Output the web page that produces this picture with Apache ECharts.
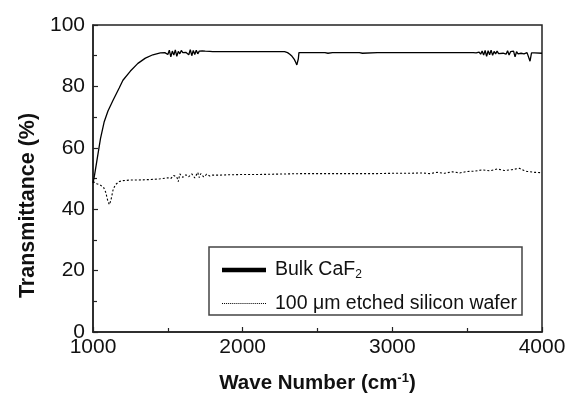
<!DOCTYPE html>
<html>
<head>
<meta charset="utf-8">
<script src="https://cdn.jsdelivr.net/npm/echarts@6/dist/echarts.min.js"></script>
<style>html,body{margin:0;padding:0;background:#fff}#c{width:568px;height:394px}</style>
</head>
<body>
<div id="c"></div>
<script>
var xTicks = [1000, 2000, 3000, 4000];
var yTicks = [0, 20, 40, 60, 80, 100];
var seriesNames = ['Bulk CaF2', '100 μm etched silicon wafer'];

var caf2X = [1000,1010,1025,1050,1075,1100,1134,1175,1200,1250,1300,1350,1400,1450,
  1480,1490,1500,1510,1520,1530,1540,1550,1560,1570,1580,1590,1600,1610,1620,1630,1640,1650,1660,1670,1680,1690,1700,1710,1720,1730,1740,1750,1760,1780,1800,
  1900,2000,2100,2200,2280,2290,2300,2315,2330,2345,2355,2362,2368,2372,2376,2390,
  2500,2550,2560,2570,2600,2700,2780,2790,2800,2900,3000,3200,3400,3540,
  3560,3580,3590,3600,3610,3620,3630,3640,3650,3660,3670,3680,3690,3700,3710,3720,3740,3750,3760,3770,3780,3790,3800,3810,3820,3830,3840,3850,3860,3870,3880,3900,3910,3920,3930,3950,4000];
var caf2Y = [48.5,51,55.5,63,68.5,72,75.5,79.5,82,85,87.5,89.2,90.3,90.9,
  91.0,91.6,90.4,91.8,89.6,91.5,90.2,91.9,89.8,91.4,90.6,91.7,91.0,91.4,91.1,91.6,90.3,92.0,90.0,91.7,90.4,91.8,90.6,91.5,90.9,91.6,91.1,91.5,91.2,91.4,91.3,
  91.3,91.3,91.3,91.3,91.3,91.2,91.0,90.5,89.8,88.8,87.8,87.0,87.4,89.0,91.0,91.0,
  91.0,91.0,91.3,90.8,91.0,91.0,91.0,91.3,90.8,91.0,91.0,91.0,91.0,91.0,
  90.9,91.2,90.5,91.5,90.2,91.7,89.8,91.6,90.3,91.8,90.1,91.4,90.6,91.5,90.7,91.3,90.8,91.4,90.5,91.6,90.2,91.3,90.7,91.5,89.6,91.3,90.6,91.2,90.8,91.1,90.6,91.0,91.3,88.2,90.9,90.9,90.8];

var siX = [1000,1010,1025,1050,1070,1085,1100,1110,1120,1135,1150,1175,1200,1250,1300,1350,1400,1450,1500,
  1520,1540,1560,1570,1580,1600,1620,1640,1660,1680,1700,1710,1720,1740,1760,1780,1800,1850,1900,2000,2100,2200,2300,2400,2500,2600,2700,2800,2900,3000,3100,3200,
  3250,3300,3350,3400,3450,3500,3550,3600,3650,3700,3750,3800,3850,3880,3900,3950,4000];
var siY = [49.0,48.8,48.3,47.8,47.2,45.5,42.5,41.5,43.0,46.5,48.0,49.0,49.3,49.5,49.5,49.6,49.7,49.9,50.2,
  50.0,51.0,50.5,49.0,51.5,50.4,51.2,50.6,51.5,50.2,52.0,50.3,51.6,50.5,51.4,50.8,51.1,51.1,51.2,51.3,51.3,51.4,51.5,51.6,51.6,51.6,51.6,51.6,51.6,51.7,51.7,51.8,
  51.6,52.0,51.7,52.2,51.8,52.3,52.4,52.8,52.5,53.1,52.6,52.9,53.3,52.6,52.3,52.0,51.9];

function pairs(xs, ys){ return xs.map(function(x,i){return [x, ys[i]];}); }

var chart = echarts.init(document.getElementById('c'), null, {renderer:'canvas'});
var font = 'Liberation Sans, Arial, sans-serif';
var dots = '';
for (var k = 0; k < 22; k++) { dots += 'M' + (2*k) + ',0L' + (2*k+1) + ',0L' + (2*k+1) + ',1L' + (2*k) + ',1Z'; }
chart.setOption({
  animation: false,
  backgroundColor: '#fff',
  grid: {left: 93, right: 26, top: 25, bottom: 62, show: true, borderColor: '#222', borderWidth: 1.5, backgroundColor: 'transparent', containLabel: false, outerBoundsMode: 'none'},
  xAxis: {
    type: 'value', min: xTicks[0], max: xTicks[xTicks.length-1], interval: 1000,
    axisLine: {show: true, onZero: false, lineStyle: {color: '#222', width: 1.5}},
    axisTick: {inside: true, length: 5, lineStyle: {color: '#222', width: 1.2}},
    minorTick: {show: true, splitNumber: 2, length: 4, lineStyle: {color: '#222', width: 1.2}},
    splitLine: {show: false},
    axisLabel: {color: '#111', fontSize: 21, fontFamily: font, margin: 5, formatter: function(v){ return String(v); }},
    name: 'Wave Number (cm{sup|-1})', nameLocation: 'middle', nameGap: 40,
    nameTextStyle: {color: '#111', fontSize: 20.5, fontWeight: 'bold', fontFamily: font,
      rich: {sup: {fontSize: 13, fontWeight: 'bold', fontFamily: font, verticalAlign: 'top', padding: [0,0,9,0], color:'#111'}}}
  },
  yAxis: {
    type: 'value', min: yTicks[0], max: yTicks[yTicks.length-1], interval: 20,
    axisLine: {show: true, onZero: false, lineStyle: {color: '#222', width: 1.5}},
    axisTick: {inside: true, length: 5, lineStyle: {color: '#222', width: 1.2}},
    minorTick: {show: true, splitNumber: 2, length: 4, lineStyle: {color: '#222', width: 1.2}},
    splitLine: {show: false},
    axisLabel: {color: '#111', fontSize: 21, fontFamily: font, margin: 8},
    name: 'Transmittance (%)', nameLocation: 'middle', nameGap: 54,
    nameTextStyle: {color: '#111', fontSize: 21.5, fontWeight: 'bold', fontFamily: font, padding: [0, 54, 0, 0]}
  },
  legend: {
    left: 209, top: 255, orient: 'vertical', padding: [5, 0, 0, 13],
    itemWidth: 44, itemHeight: 14, itemGap: 13,
    formatter: function(n){ return n === seriesNames[0] ? 'Bulk CaF{sub|2}' : n; },
    textStyle: {color: '#111', fontSize: 19.5, fontFamily: font, padding: [0,0,0,4],
      rich: {sub: {fontSize: 12, fontFamily: font, padding: [9,0,0,0], color:'#111'}}},
    data: [
      {name: seriesNames[0], icon: 'path://M0,0L10,0L10,1L0,1Z', itemStyle: {color: '#000'}},
      {name: seriesNames[1], icon: 'path://' + dots, itemStyle: {color: '#000'}}
    ]
  },
  graphic: [{type: 'rect', shape: {x: 209, y: 247, width: 313, height: 68}, style: {fill: 'none', stroke: '#444', lineWidth: 1.5}, z: 10}],
  series: [
    {name: seriesNames[0], type: 'line', data: pairs(caf2X, caf2Y), showSymbol: false, symbol: 'none',
      lineStyle: {color: '#000', width: 1.3}, itemStyle: {color: '#000'}},
    {name: seriesNames[1], type: 'line', data: pairs(siX, siY), showSymbol: false, symbol: 'none',
      lineStyle: {color: '#000', width: 1.1, type: [2, 2]}, itemStyle: {color: '#000'}}
  ]
});
</script>
</body>
</html>
